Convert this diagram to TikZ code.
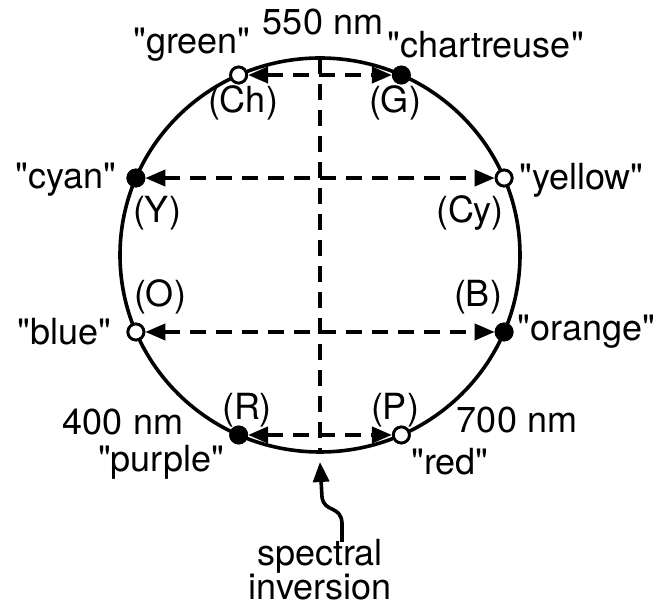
\documentclass[tikz,border=0pt]{standalone}
\usepackage{fontspec}
\setmainfont{TeX Gyre Heros}[Ligatures=TeXOff]
\usetikzlibrary{arrows.meta, positioning, calc}
\tikzstyle{fulldot} = [circle, draw=black, fill=black, line width=1.4pt, minimum size=8pt, inner sep=0pt]
\tikzstyle{opendot} = [circle, draw=black, fill=white, line width=1.4pt, minimum size=8pt, inner sep=0pt]
\tikzstyle{pairarrow} = [{Triangle[length=10pt, width=8pt]}-{Triangle[length=10pt, width=8pt]}, line width=1.9pt, dash pattern=on 8pt off 5pt]
\tikzstyle{huetext} = [font=\fontsize{18}{20}\selectfont, inner sep=0pt]

\begin{document}
\begin{tikzpicture}[x=0.5pt, y=0.5pt]
    \useasboundingbox (-320,-353) rectangle (349,255);

    % Hue circle
    \draw[line width=1.8pt] (0,0) ellipse [x radius=200, y radius=197];
    \coordinate (top) at (90:200 and 197);
    \coordinate (bottom) at (270:200 and 197);
    \draw[line width=1.9pt, dash pattern=on 8pt off 5pt] (top) -- (bottom);

    % Points on the circle
    \node[opendot] (green) at (114:200 and 197) {};
    \node[fulldot] (chart) at (66:200 and 197) {};
    \node[fulldot] (cyan) at (157:200 and 197) {};
    \node[opendot] (yellow) at (23:200 and 197) {};
    \node[opendot] (blue) at (203:200 and 197) {};
    \node[fulldot] (orange) at (337:200 and 197) {};
    \node[fulldot] (purple) at (246:200 and 197) {};
    \node[opendot] (red) at (294:200 and 197) {};

    % Inverted pairs
    \draw[pairarrow] (green) -- (chart);
    \draw[pairarrow] (cyan) -- (yellow);
    \draw[pairarrow] (blue) -- (orange);
    \draw[pairarrow] (purple) -- (red);
    \node[opendot] at (green) {};
    \node[fulldot] at (chart) {};
    \node[fulldot] at (cyan) {};
    \node[opendot] at (yellow) {};
    \node[opendot] at (blue) {};
    \node[fulldot] at (orange) {};
    \node[fulldot] at (purple) {};
    \node[opendot] at (red) {};

    % Wavelength labels
    \node[huetext] (nm550) at (3,233) {550 nm};
    \node[huetext] (nm400) at (-197,-167) {400 nm};
    \node[huetext] (nm700) at (197,-165) {700 nm};

    % Colour names
    \node[huetext] (tgreen) at (-128,210) {"green"};
    \node[huetext, anchor=west] (tchart) at (67,210) {"chartreuse"};
    \node[huetext, anchor=east] (tcyan) at (-203,75) {"cyan"};
    \node[huetext, anchor=west] (tyellow) at (199,75) {"yellow"};
    \node[huetext, anchor=east] (tblue) at (-208,-77) {"blue"};
    \node[huetext, anchor=west] (torange) at (197,-77) {"orange"};
    \node[huetext] (tpurple) at (-159,-207) {"purple"};
    \node[huetext] (tred) at (130,-207) {"red"};

    % Letters of the partner hues
    \node[huetext] (lCh) at (-77,152) {(Ch)};
    \node[huetext] (lG) at (75,152) {(G)};
    \node[huetext] (lY) at (-163,42) {(Y)};
    \node[huetext] (lCy) at (150,42) {(Cy)};
    \node[huetext] (lO) at (-160,-42) {(O)};
    \node[huetext] (lB) at (158,-42) {(B)};
    \node[huetext] (lR) at (-73,-155) {(R)};
    \node[huetext] (lP) at (75,-155) {(P)};

    % Spectral inversion
    \node[huetext, align=center, font=\fontsize{18}{17}\selectfont] (inversion) at (0,-315) {spectral\\inversion};
    \coordinate (tail) at (22,-287);
    \coordinate (tip) at (0,-207);
    \draw[line width=1.8pt, -{Triangle[length=10pt, width=8pt]}] (tail) -- (22,-268) .. controls (21,-250) and (4,-258) .. (2,-242) -- (tip);
\end{tikzpicture}
\end{document}
